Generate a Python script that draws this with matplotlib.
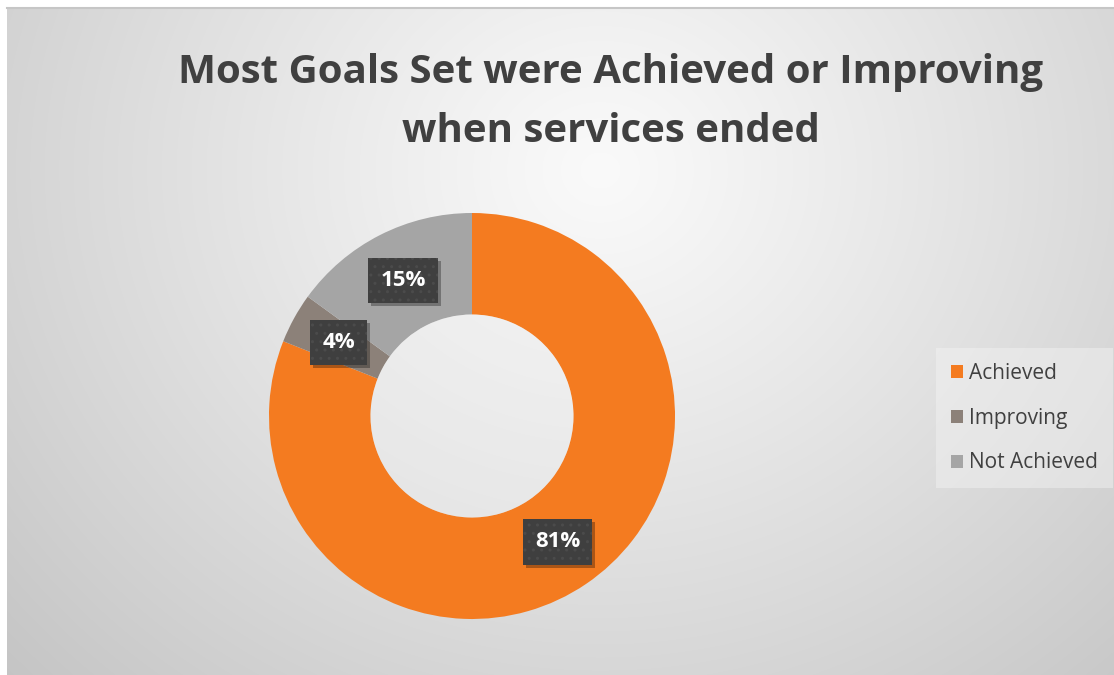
import matplotlib
matplotlib.use('Agg')
import matplotlib.pyplot as plt
import matplotlib.transforms as mtransforms
import numpy as np
from matplotlib.patches import Patch, Rectangle

labels = ['Achieved', 'Improving', 'Not Achieved']
values = [81, 4, 15]
colors = ['#F47B20', '#8C8179', '#A5A5A5']
title_lines = ['Most Goals Set were Achieved or Improving', 'when services ended']

W, H = 1114, 675
plt.rcParams['font.family'] = ['Open Sans', 'DejaVu Sans']
fig = plt.figure(figsize=(W / 100, H / 100), dpi=100)
fig.patch.set_facecolor('white')

# radial gray background of the chart area
bg = fig.add_axes([7 / W, 0, 1 - 7 / W, 1 - 8 / H])
bg.set_axis_off()
yy, xx = np.mgrid[8:H, 7:W]
d = np.hypot((xx - 600) / 1.0, (yy - 170) / 0.9)
d = np.clip(d / 820, 0, 1) ** 1.1
light = np.array([0.98, 0.98, 0.98])
dark = np.array([0.77, 0.77, 0.77])
img = light[None, None, :] * (1 - d[..., None]) + dark[None, None, :] * d[..., None]
bg.imshow(img, aspect='auto', interpolation='bilinear')
fig.add_artist(plt.Line2D([7 / W, 1], [1 - 8 / H, 1 - 8 / H], color='#c6c6c6', lw=1.5))

# donut
cx, cy, R = 472, 416, 203
ax = fig.add_axes([(cx - R) / W, (H - cy - R) / H, 2 * R / W, 2 * R / H])
ax.set_axis_off()
wedges, texts, autotexts = ax.pie(
    values, colors=colors, startangle=90, counterclock=False,
    autopct='%d%%', pctdistance=0.75,
    wedgeprops=dict(width=0.5, linewidth=0),
    textprops=dict(color='white', fontsize=16, fontweight='bold', zorder=5))
ax.set_xlim(-1, 1)
ax.set_ylim(-1, 1)
ax.set_aspect('equal')

# soft lighter hole
ax.add_patch(plt.Circle((0, 0), 0.5, facecolor='#f2f2f2', alpha=0.35, linewidth=0))

for t in autotexts:
    t.set_bbox(dict(boxstyle='square,pad=0.55', facecolor='#3f3f3f',
                    edgecolor='#4b4b4b', linewidth=0, hatch='..'))

# drop shadows behind the label boxes
fig.canvas.draw()
for t in autotexts:
    bb = t.get_bbox_patch().get_window_extent()
    ax.add_artist(Rectangle((bb.x0 + 3, bb.y0 - 3), bb.width, bb.height,
                            transform=mtransforms.IdentityTransform(),
                            facecolor='black', alpha=0.3, linewidth=0,
                            zorder=4, clip_on=False))

# title
fig.text(611 / W, 1 - 83 / H, title_lines[0], ha='center', va='baseline',
         fontsize=29, fontweight='bold', color='#404040')
fig.text(611 / W, 1 - 142 / H, title_lines[1], ha='center', va='baseline',
         fontsize=29, fontweight='bold', color='#404040')

# legend
handles = [Patch(facecolor=c, edgecolor='none') for c in colors]
leg = fig.legend(handles, labels, loc='upper left',
                 bbox_to_anchor=(936 / W, 1 - 348 / H), borderaxespad=0,
                 fontsize=15, frameon=True, fancybox=False,
                 handlelength=0.6, handleheight=0.6, handletextpad=0.3,
                 labelspacing=1.15, borderpad=0.7)
leg.get_frame().set_facecolor('#f4f4f4')
leg.get_frame().set_alpha(0.45)
leg.get_frame().set_edgecolor('none')
for txt in leg.get_texts():
    txt.set_color('#404040')

fig.savefig('out.png', dpi=100)
